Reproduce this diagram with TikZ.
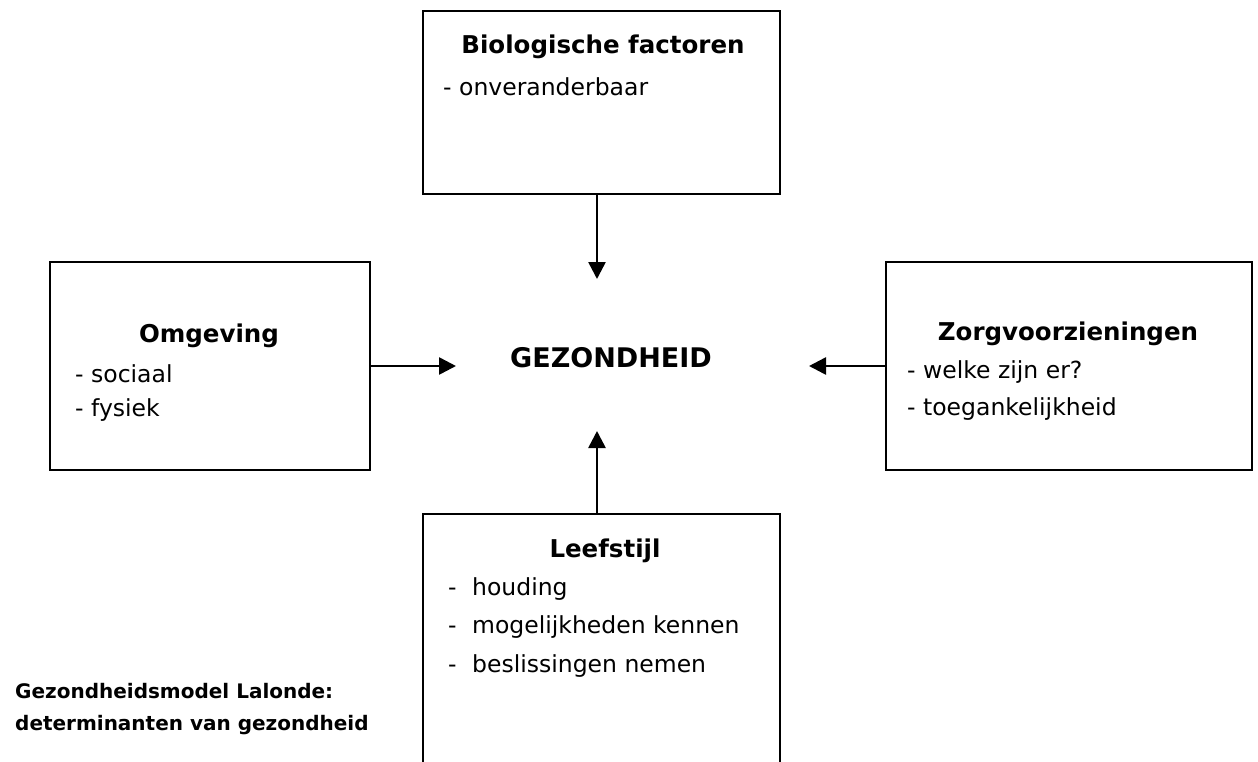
\documentclass[tikz,border=0pt]{standalone}
\usepackage{fontspec}
\setmainfont{DejaVu Sans}
\usetikzlibrary{arrows.meta}
\begin{document}
\begin{tikzpicture}[x=1pt,y=-1pt,
  box/.style={draw=black, line width=2pt, rectangle, inner sep=0pt},
  ttl/.style={font=\fontsize{24.5}{28}\selectfont\bfseries, anchor=base, inner sep=0pt},
  body/.style={font=\fontsize{23.5}{28}\selectfont, anchor=base west, inner sep=0pt},
  capt/.style={font=\fontsize{20}{24}\selectfont\bfseries, anchor=base west, inner sep=0pt},
  arr/.style={line width=2.6pt, -{Triangle[length=17pt,width=17pt]}}]
\useasboundingbox (0,0) rectangle (1258,761);
\fill[white] (0,0) rectangle (1258,761);
% boxes
\node[box, minimum width=357pt, minimum height=183pt] (bio) at (601.5,102.5) {};
\node[box, minimum width=320pt, minimum height=208pt] (omg) at (210,366) {};
\node[box, minimum width=366pt, minimum height=208pt] (zorg) at (1069,366) {};
\node[box, minimum width=357pt, minimum height=276pt] (leef) at (601.5,652) {};
% texts
\node[ttl] (tbio) at (603,53) {Biologische factoren};
\node[body] (bio1) at (443,95) {- onveranderbaar};
\node[ttl] (tomg) at (209,342) {Omgeving};
\node[body] (omg1) at (75,382) {- sociaal};
\node[body] (omg2) at (75,416) {- fysiek};
\node[ttl] (tzorg) at (1068,340) {Zorgvoorzieningen};
\node[body] (zorg1) at (907,378) {- welke zijn er?};
\node[body] (zorg2) at (907,415) {- toegankelijkheid};
\node[ttl] (tleef) at (605,557) {Leefstijl};
\node[body] (leef1) at (448,595) {\makebox[24pt][l]{-}houding};
\node[body] (leef2) at (448,633) {\makebox[24pt][l]{-}mogelijkheden kennen};
\node[body] (leef3) at (448,672) {\makebox[24pt][l]{-}beslissingen nemen};
\node[ttl, font=\fontsize{27}{30}\selectfont\bfseries] (gez) at (611,367) {GEZONDHEID};
\node[capt] (cap1) at (15,698) {Gezondheidsmodel Lalonde:};
\node[capt] (cap2) at (15,730) {determinanten van gezondheid};
% arrow tips
\coordinate (tipT) at (597,279);
\coordinate (tipB) at (597,431);
\coordinate (tipL) at (456,366);
\coordinate (tipR) at (809,366);
\draw[arr] (bio.south -| tipT) -- (tipT);
\draw[arr] (leef.north -| tipB) -- (tipB);
\draw[arr] (omg.east) -- (tipL);
\draw[arr] (zorg.west) -- (tipR);
\end{tikzpicture}
\end{document}
